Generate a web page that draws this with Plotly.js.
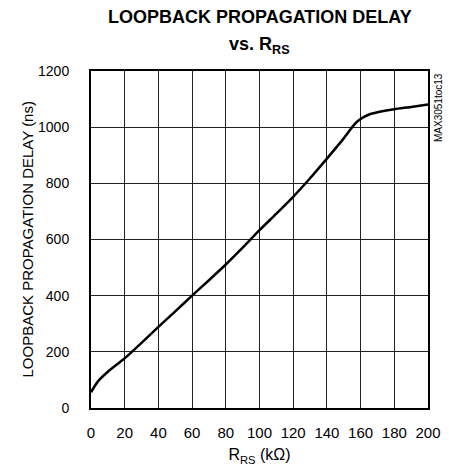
<!DOCTYPE html>
<html>
<head>
<meta charset="utf-8">
<script src="https://cdn.plot.ly/plotly-3.0.1.min.js"></script>
<style>html,body{margin:0;padding:0;background:#fff;}#chart{width:449px;height:470px;}</style>
</head>
<body>
<div id="chart"></div>
<script>
const rrs = [0, 4, 10, 20, 30, 40, 50, 60, 70, 80, 90, 100, 110, 120, 130, 140, 150, 155, 158, 161, 165, 170, 180, 190, 200];
const delay = [56, 94, 129, 177, 232, 289, 344, 400, 455, 511, 571, 633, 692, 752, 818, 888, 960, 1000, 1020, 1033, 1045, 1053, 1064, 1072, 1081];
const xTicks = [0, 20, 40, 60, 80, 100, 120, 140, 160, 180, 200];
const yTicks = [0, 200, 400, 600, 800, 1000, 1200];

const FONT = "'Liberation Sans', Arial, sans-serif";

const trace = {
  x: rrs, y: delay, type: 'scatter', mode: 'lines',
  line: {color: '#000', width: 2.5, shape: 'spline', smoothing: 0.6},
  hoverinfo: 'skip'
};

const layout = {
  width: 449, height: 470,
  margin: {l: 91, r: 21, t: 71, b: 62},
  paper_bgcolor: '#fff', plot_bgcolor: '#fff',
  showlegend: false,
  font: {family: FONT, size: 15, color: '#000'},
  xaxis: {
    range: [0, 200], tickvals: xTicks, ticktext: xTicks.map(String),
    showgrid: true, gridcolor: '#222', gridwidth: 1,
    zeroline: false, showline: true, linecolor: '#000', linewidth: 2, mirror: true,
    ticks: 'outside', ticklen: 10, tickcolor: 'rgba(0,0,0,0)',
    tickfont: {family: FONT, size: 15},
    title: {text: 'R<sub>RS</sub> (kΩ)', font: {family: FONT, size: 16}, standoff: 9}
  },
  yaxis: {
    range: [0, 1200], tickvals: yTicks, ticktext: yTicks.map(String),
    showgrid: true, gridcolor: '#222', gridwidth: 1,
    zeroline: false, showline: true, linecolor: '#000', linewidth: 2, mirror: true,
    ticks: 'outside', ticklen: 17, tickcolor: 'rgba(0,0,0,0)',
    tickfont: {family: FONT, size: 14}
  },
  annotations: [
    {
      text: '<b>LOOPBACK PROPAGATION DELAY</b>', showarrow: false,
      xref: 'paper', yref: 'paper', x: 0.5, y: 1, xanchor: 'center', yanchor: 'middle',
      yshift: 54, font: {family: FONT, size: 18, color: '#000'}
    },
    {
      text: '<b>vs. R<sub>RS</sub></b>', showarrow: false,
      xref: 'paper', yref: 'paper', x: 0.5, y: 1, xanchor: 'center', yanchor: 'middle',
      yshift: 26, font: {family: FONT, size: 18, color: '#000'}
    },
    {
      text: 'LOOPBACK PROPAGATION DELAY (ns)', textangle: -90, showarrow: false,
      xref: 'paper', yref: 'paper', x: 0, y: 0.5, xanchor: 'center', yanchor: 'middle',
      xshift: -64, font: {family: FONT, size: 15, color: '#000'}
    },
    {
      text: 'MAX3051toc13', textangle: -90, showarrow: false,
      xref: 'paper', yref: 'paper', x: 1.0, y: 1.0, xanchor: 'left', yanchor: 'top',
      xshift: 3, font: {family: FONT, size: 10, color: '#000'}
    }
  ]
};

Plotly.newPlot('chart', [trace], layout, {staticPlot: true, displayModeBar: false});
</script>
</body>
</html>
